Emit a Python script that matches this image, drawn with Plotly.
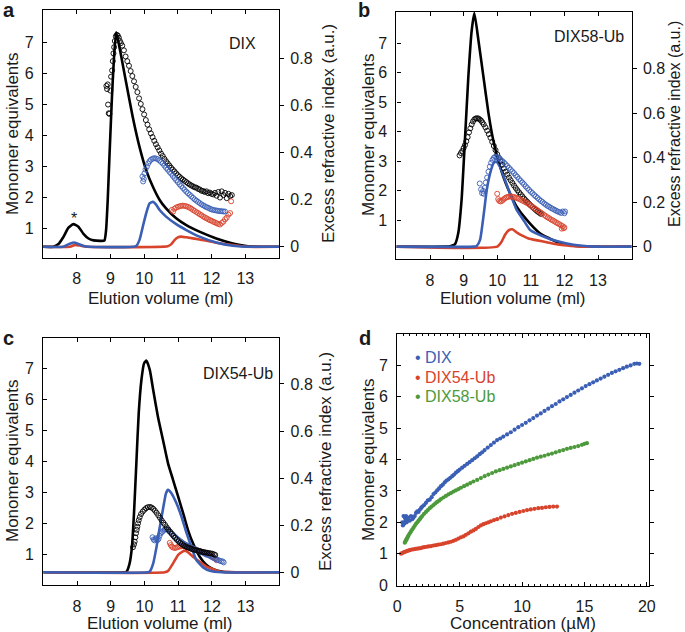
import plotly.graph_objects as go

W, H = 685, 632
BLUE = "#3a5fb5"
RED = "#d8432c"
GREEN = "#4c9a3c"
BLACK = "#000000"
TXT = "#1a1a1a"
FONT = "Liberation Sans, Arial, sans-serif"

# ---------------- Panel a (DIX) ----------------
# refractive index traces (x in ml, y in a.u.)
a_black_ri_x = [7.0, 7.3, 7.45, 7.6, 7.75, 7.9, 8.05, 8.2, 8.35, 8.5, 8.7, 8.82, 8.87, 8.92, 8.97, 9.04, 9.1, 9.17,
                9.32, 9.47, 9.66, 9.86, 10.06, 10.26, 10.46, 10.65, 10.95, 11.25, 11.64, 12.14, 12.63, 13.03, 13.5, 14.0]
a_black_ri_y = [0, 0, 0.01, 0.04, 0.08, 0.096, 0.085, 0.055, 0.035, 0.027, 0.025, 0.026, 0.07, 0.2, 0.38, 0.62, 0.79, 0.912,
                0.81, 0.695, 0.553, 0.426, 0.326, 0.255, 0.199, 0.163, 0.121, 0.092, 0.064, 0.035, 0.014, 0.003, 0, 0]
a_blue_ri_x = [7.0, 7.6, 7.75, 7.9, 8.05, 8.2, 8.4, 9.76, 9.86, 9.96, 10.06, 10.16, 10.26, 10.36, 10.46, 10.65, 10.95,
               11.25, 11.64, 12.14, 12.63, 13.0, 14.0]
a_blue_ri_y = [0, 0, 0.01, 0.018, 0.012, 0.003, 0, 0.003, 0.028, 0.085, 0.142, 0.184, 0.191, 0.178, 0.156, 0.128, 0.096,
               0.071, 0.043, 0.018, 0.004, 0, 0]
a_red_ri_x = [7.0, 7.8, 7.95, 8.1, 8.3, 10.7, 10.8, 10.9, 11.0, 11.1, 11.25, 11.64, 12.14, 12.63, 13.03, 14.0]
a_red_ri_y = [0, 0, 0.008, 0.005, 0, 0.002, 0.01, 0.028, 0.04, 0.043, 0.04, 0.031, 0.017, 0.007, 0, 0]
# monomer equivalents (x, value)
a_black_me = [(8.88, 5.6), (8.9, 5.5), (8.92, 5.65), (8.93, 5.0), (8.95, 4.72), (8.97, 4.7), (9.0, 5.45), (9.02, 5.9),
              (9.05, 6.1), (9.07, 6.4), (9.09, 6.65), (9.11, 6.85), (9.13, 7.05), (9.16, 7.2), (9.19, 7.25), (9.22, 7.22),
              (9.25, 7.15), (9.28, 7.05), (9.31, 6.98), (9.35, 6.9), (9.4, 6.75), (9.45, 6.55), (9.5, 6.4), (9.55, 6.25),
              (9.6, 6.08), (9.65, 5.92), (9.7, 5.75), (9.75, 5.57), (9.8, 5.4), (9.85, 5.2), (9.9, 5.02), (9.95, 4.85),
              (10.0, 4.68), (10.05, 4.5), (10.1, 4.35), (10.15, 4.2), (10.2, 4.07), (10.25, 3.95), (10.3, 3.83),
              (10.35, 3.72), (10.4, 3.62), (10.45, 3.52), (10.5, 3.42), (10.55, 3.34), (10.6, 3.25), (10.65, 3.17),
              (10.7, 3.1), (10.75, 3.03), (10.8, 2.96), (10.85, 2.9), (10.9, 2.84), (10.95, 2.78), (11.0, 2.72),
              (11.05, 2.67), (11.1, 2.62), (11.15, 2.58), (11.2, 2.54), (11.25, 2.5), (11.3, 2.46), (11.35, 2.42),
              (11.4, 2.39), (11.45, 2.36), (11.5, 2.33), (11.55, 2.32), (11.6, 2.28), (11.65, 2.26), (11.7, 2.22),
              (11.75, 2.21), (11.8, 2.18), (11.85, 2.2), (11.9, 2.14), (11.95, 2.16), (12.0, 2.12), (12.05, 2.1),
              (12.1, 2.15), (12.15, 2.06), (12.2, 2.18), (12.25, 2.0), (12.3, 2.2), (12.35, 2.08), (12.4, 2.15),
              (12.45, 1.98), (12.5, 2.12), (12.55, 2.05), (12.6, 2.08)]
a_blue_me = [(9.95, 2.68), (9.97, 2.52), (9.99, 2.6), (10.01, 2.78), (10.04, 2.9), (10.08, 3.0), (10.12, 3.1), (10.16, 3.17),
             (10.2, 3.22), (10.25, 3.25), (10.3, 3.27), (10.35, 3.26), (10.4, 3.24), (10.45, 3.2), (10.5, 3.15), (10.55, 3.1),
             (10.6, 3.03), (10.65, 2.96), (10.7, 2.9), (10.75, 2.83), (10.8, 2.77), (10.85, 2.7), (10.9, 2.63), (10.95, 2.56),
             (11.0, 2.5), (11.05, 2.43), (11.1, 2.37), (11.15, 2.31), (11.2, 2.25), (11.25, 2.19), (11.3, 2.14), (11.35, 2.09),
             (11.4, 2.04), (11.45, 1.99), (11.5, 1.94), (11.55, 1.9), (11.6, 1.86), (11.65, 1.82), (11.7, 1.78), (11.75, 1.75),
             (11.8, 1.72), (11.85, 1.69), (11.9, 1.67), (11.95, 1.64), (12.0, 1.62), (12.05, 1.6), (12.1, 1.59), (12.15, 1.58),
             (12.2, 1.57), (12.25, 1.56), (12.3, 1.56), (12.35, 1.55), (12.4, 1.55)]
a_red_me = [(10.82, 1.6), (10.86, 1.55), (10.9, 1.64), (10.95, 1.68), (11.0, 1.7), (11.05, 1.72), (11.1, 1.73), (11.15, 1.74),
            (11.2, 1.73), (11.25, 1.72), (11.3, 1.7), (11.35, 1.67), (11.4, 1.64), (11.45, 1.6), (11.5, 1.57), (11.55, 1.53),
            (11.6, 1.5), (11.65, 1.46), (11.7, 1.43), (11.75, 1.39), (11.8, 1.36), (11.85, 1.33), (11.9, 1.3), (11.95, 1.27),
            (12.0, 1.25), (12.05, 1.22), (12.1, 1.2), (12.15, 1.17), (12.2, 1.15), (12.25, 1.13), (12.3, 1.18), (12.35, 1.22),
            (12.4, 1.3), (12.45, 1.35), (12.5, 1.45), (12.55, 1.5), (12.58, 1.88)]

# ---------------- Panel b (DIX58-Ub) ----------------
b_black_ri_x = [7.0, 8.5, 8.6, 8.74, 8.84, 8.94, 9.04, 9.14, 9.24, 9.32, 9.44, 9.59, 9.74, 9.88, 10.0, 10.18, 10.38,
                10.58, 10.88, 11.27, 11.77, 12.27, 12.8, 14.0]
b_black_ri_y = [0, 0, 0.002, 0.01, 0.06, 0.21, 0.48, 0.76, 0.97, 1.05, 0.929, 0.764, 0.6, 0.48, 0.405, 0.315, 0.24,
                0.18, 0.12, 0.06, 0.022, 0.004, 0, 0]
b_blue_ri_x = [7.0, 9.3, 9.39, 9.49, 9.59, 9.69, 9.79, 9.89, 9.97, 10.08, 10.23, 10.38, 10.58, 10.78, 10.98, 11.47,
               11.77, 12.27, 12.86, 14.0]
b_blue_ri_y = [0, 0, 0.003, 0.03, 0.135, 0.255, 0.33, 0.375, 0.382, 0.36, 0.3, 0.24, 0.165, 0.12, 0.075, 0.04,
               0.025, 0.008, 0, 0]
b_red_ri_x = [7.0, 10.0, 10.13, 10.23, 10.33, 10.45, 10.6, 10.78, 10.93, 11.2, 11.47, 11.8, 12.07, 12.5, 14.0]
b_red_ri_y = [0, 0, 0.022, 0.052, 0.072, 0.078, 0.062, 0.047, 0.037, 0.028, 0.02, 0.01, 0.005, 0, 0]
b_black_me = [(8.88, 3.2), (8.92, 3.28), (8.96, 3.35), (9.0, 3.45), (9.04, 3.55), (9.08, 3.68), (9.12, 3.82), (9.16, 3.98),
              (9.2, 4.12), (9.24, 4.25), (9.28, 4.35), (9.32, 4.42), (9.36, 4.45), (9.4, 4.46), (9.44, 4.45), (9.48, 4.42),
              (9.52, 4.38), (9.56, 4.32), (9.6, 4.25), (9.65, 4.15), (9.7, 4.04), (9.75, 3.92), (9.8, 3.8), (9.85, 3.66),
              (9.9, 3.52), (9.95, 3.38), (10.0, 3.24), (10.05, 3.12), (10.1, 3.0), (10.15, 2.88), (10.2, 2.76), (10.25, 2.65),
              (10.3, 2.55), (10.35, 2.45), (10.4, 2.36), (10.45, 2.27), (10.5, 2.18), (10.55, 2.1), (10.6, 2.02),
              (10.65, 1.95), (10.7, 1.88), (10.75, 1.81), (10.8, 1.74), (10.85, 1.68), (10.9, 1.62), (10.95, 1.56),
              (11.0, 1.5), (11.05, 1.45), (11.1, 1.4), (11.15, 1.35), (11.2, 1.3), (11.25, 1.26), (11.3, 1.22)]
b_blue_me = [(9.48, 2.25), (9.52, 2.05), (9.55, 1.92), (9.58, 2.0), (9.6, 1.9), (9.63, 2.1), (9.66, 2.28), (9.7, 2.45),
             (9.74, 2.65), (9.78, 2.82), (9.82, 2.95), (9.86, 3.05), (9.9, 3.12), (9.94, 3.15), (9.98, 3.15), (10.02, 3.13),
             (10.06, 3.1), (10.1, 3.06), (10.15, 3.01), (10.2, 2.96), (10.25, 2.9), (10.3, 2.84), (10.35, 2.78), (10.4, 2.72),
             (10.45, 2.66), (10.5, 2.6), (10.55, 2.53), (10.6, 2.47), (10.65, 2.4), (10.7, 2.34), (10.75, 2.28), (10.8, 2.22),
             (10.85, 2.15), (10.9, 2.09), (10.95, 2.03), (11.0, 1.97), (11.05, 1.92), (11.1, 1.86), (11.15, 1.81),
             (11.2, 1.76), (11.25, 1.71), (11.3, 1.66), (11.35, 1.62), (11.4, 1.57), (11.45, 1.53), (11.5, 1.49),
             (11.55, 1.46), (11.6, 1.42), (11.65, 1.39), (11.7, 1.36), (11.75, 1.33), (11.8, 1.3), (11.85, 1.28),
             (11.9, 1.25), (11.95, 1.3), (12.0, 1.24), (12.02, 1.3)]
b_red_me = [(10.0, 1.9), (10.03, 1.72), (10.06, 1.66), (10.1, 1.64), (10.14, 1.66), (10.18, 1.7), (10.22, 1.74), (10.26, 1.77),
            (10.3, 1.79), (10.35, 1.8), (10.4, 1.81), (10.45, 1.8), (10.5, 1.79), (10.55, 1.77), (10.6, 1.75), (10.65, 1.73),
            (10.7, 1.7), (10.75, 1.67), (10.8, 1.64), (10.85, 1.61), (10.9, 1.58), (10.95, 1.54), (11.0, 1.5), (11.05, 1.46),
            (11.1, 1.42), (11.15, 1.38), (11.2, 1.34), (11.25, 1.3), (11.3, 1.26), (11.35, 1.22), (11.4, 1.18), (11.45, 1.14),
            (11.5, 1.1), (11.55, 1.07), (11.6, 1.03), (11.65, 1.0), (11.7, 0.97), (11.75, 0.93), (11.8, 0.9), (11.85, 0.87),
            (11.9, 0.83), (11.95, 0.8), (12.0, 0.76), (11.92, 0.72), (11.98, 0.73)]

# ---------------- Panel c (DIX54-Ub) ----------------
c_black_ri_x = [7.0, 9.4, 9.47, 9.56, 9.63, 9.69, 9.76, 9.83, 9.91, 9.99, 10.06, 10.16, 10.26, 10.4, 10.55, 10.7, 10.85,
                11.0, 11.15, 11.29, 11.44, 11.64, 11.84, 12.04, 12.33, 12.8, 14.0]
c_black_ri_y = [0, 0, 0.003, 0.038, 0.109, 0.25, 0.463, 0.675, 0.817, 0.888, 0.899, 0.859, 0.774, 0.661, 0.562, 0.463,
                0.392, 0.321, 0.25, 0.18, 0.123, 0.066, 0.031, 0.013, 0.002, 0, 0]
c_blue_ri_x = [7.0, 10.1, 10.16, 10.26, 10.36, 10.44, 10.51, 10.58, 10.64, 10.7, 10.8, 10.95, 11.1, 11.25, 11.39, 11.54,
               11.74, 11.94, 12.3, 14.0]
c_blue_ri_y = [0, 0, 0.004, 0.038, 0.109, 0.18, 0.236, 0.293, 0.336, 0.35, 0.336, 0.293, 0.236, 0.166, 0.109, 0.052,
               0.021, 0.007, 0, 0]
c_red_ri_x = [7.0, 10.6, 10.7, 10.85, 11.0, 11.13, 11.2, 11.29, 11.44, 11.64, 11.84, 12.04, 12.23, 12.6, 14.0]
c_red_ri_y = [0, 0, 0.006, 0.038, 0.074, 0.088, 0.092, 0.085, 0.066, 0.045, 0.024, 0.013, 0.003, 0, 0]
c_black_me = [(9.66, 1.23), (9.69, 1.32), (9.71, 1.41), (9.73, 1.55), (9.75, 1.68), (9.77, 1.79), (9.79, 1.89), (9.81, 2.0),
              (9.83, 2.1), (9.86, 2.2), (9.9, 2.3), (9.95, 2.38), (10.0, 2.44), (10.05, 2.49), (10.1, 2.52), (10.16, 2.53),
              (10.21, 2.51), (10.26, 2.47), (10.31, 2.41), (10.36, 2.34), (10.41, 2.26), (10.46, 2.18), (10.51, 2.1),
              (10.56, 2.02), (10.61, 1.95), (10.66, 1.87), (10.71, 1.8), (10.76, 1.73), (10.81, 1.66), (10.86, 1.59),
              (10.91, 1.53), (10.96, 1.47), (11.01, 1.42), (11.06, 1.37), (11.11, 1.33), (11.16, 1.29), (11.21, 1.26),
              (11.26, 1.23), (11.31, 1.21), (11.36, 1.19), (11.41, 1.17), (11.46, 1.15), (11.51, 1.14), (11.56, 1.12),
              (11.61, 1.11), (11.66, 1.1), (11.71, 1.08), (11.76, 1.07), (11.81, 1.06), (11.86, 1.05), (11.91, 1.04),
              (11.96, 1.03), (12.01, 1.02), (12.06, 1.0), (12.1, 0.98)]
c_blue_me = [(10.24, 1.55), (10.27, 1.48), (10.3, 1.45), (10.33, 1.5), (10.36, 1.52), (10.39, 1.46), (10.42, 1.5),
             (10.45, 1.6), (10.48, 1.68), (10.52, 1.72), (10.56, 1.76), (10.6, 1.8), (10.64, 1.82), (10.68, 1.8),
             (10.72, 1.76), (10.77, 1.71), (10.82, 1.66), (10.87, 1.6), (10.92, 1.55), (10.97, 1.5), (11.02, 1.46),
             (11.07, 1.42), (11.12, 1.38), (11.17, 1.34), (11.22, 1.31), (11.27, 1.28), (11.32, 1.25), (11.37, 1.22),
             (11.42, 1.2), (11.47, 1.18), (11.52, 1.16), (11.57, 1.13), (11.62, 1.11), (11.67, 1.08), (11.72, 1.06),
             (11.77, 1.03), (11.82, 1.0), (11.87, 0.98), (11.92, 0.96), (11.97, 0.93), (12.02, 0.9), (12.07, 0.87),
             (12.12, 0.85), (12.17, 0.82), (12.22, 0.8), (12.27, 0.78), (12.32, 0.77), (12.35, 0.74)]
c_red_me = [(10.75, 1.37), (10.78, 1.3), (10.81, 1.25), (10.85, 1.22), (10.9, 1.2), (10.95, 1.22), (11.0, 1.24), (11.05, 1.25),
            (11.1, 1.26), (11.15, 1.26), (11.2, 1.26), (11.25, 1.25), (11.3, 1.24), (11.35, 1.22), (11.4, 1.2), (11.45, 1.18),
            (11.5, 1.16), (11.55, 1.14), (11.6, 1.12), (11.65, 1.1), (11.7, 1.08), (11.75, 1.06), (11.8, 1.04), (11.85, 1.02),
            (11.9, 1.0), (11.95, 0.97), (12.0, 0.94), (12.05, 0.9), (12.1, 0.86), (12.14, 0.81)]

# ---------------- Panel d (monomer equivalents vs concentration) ----------------
d_dix_x = [0.4, 0.45, 0.5, 0.55, 0.6, 0.65, 0.7, 0.75, 0.8, 0.9, 1.0, 1.1, 1.2, 1.3, 1.4, 1.5, 1.6, 1.7, 1.8, 1.9, 2.0,
           2.15, 2.3, 2.45, 2.6, 2.75, 2.9, 3.05, 3.2, 3.35, 3.5, 3.65, 3.8, 3.95, 4.1, 4.25, 4.4, 4.55, 4.7, 4.85, 5.0,
           5.2, 5.4, 5.6, 5.8, 6.0, 6.2, 6.4, 6.6, 6.8, 7.0, 7.25, 7.5, 7.75, 8.0, 8.25, 8.5, 8.8, 9.1, 9.4, 9.7, 10.0,
           10.3, 10.6, 10.9, 11.2, 11.5, 11.8, 12.1, 12.4, 12.7, 13.0, 13.3, 13.6, 13.9, 14.2, 14.5, 14.8, 15.1, 15.4,
           15.7, 16.0, 16.3, 16.6, 16.9, 17.2, 17.5, 17.8, 18.1, 18.4, 18.7, 19.0, 19.2, 19.4]
d_dix_y = [2.0, 1.9, 2.2, 1.95, 2.15, 2.05, 2.2, 2.0, 2.1, 2.15, 2.05, 2.2, 2.1, 2.15, 2.2, 2.3, 2.35, 2.33, 2.4, 2.45, 2.5,
           2.55, 2.62, 2.7, 2.72, 2.8, 2.9, 2.95, 3.02, 3.08, 3.15, 3.2, 3.27, 3.33, 3.37, 3.42, 3.47, 3.52, 3.58, 3.63, 3.68,
           3.74, 3.8, 3.86, 3.92, 3.98, 4.04, 4.1, 4.17, 4.23, 4.3, 4.38, 4.46, 4.54, 4.62, 4.67, 4.73, 4.8, 4.87, 4.95, 5.03,
           5.1, 5.17, 5.25, 5.32, 5.4, 5.47, 5.55, 5.62, 5.7, 5.77, 5.85, 5.92, 5.99, 6.06, 6.13, 6.2, 6.27, 6.34, 6.4,
           6.46, 6.52, 6.58, 6.64, 6.7, 6.76, 6.81, 6.86, 6.91, 6.96, 7.0, 7.05, 7.06, 7.05]
d_dix54_x = [0.3, 0.4, 0.5, 0.6, 0.7, 0.8, 0.9, 1.0, 1.15, 1.3, 1.45, 1.6, 1.75, 1.9, 2.05, 2.2, 2.35, 2.5, 2.7, 2.9, 3.1,
             3.3, 3.5, 3.7, 3.9, 4.1, 4.3, 4.5, 4.7, 4.9, 5.1, 5.3, 5.5, 5.7, 5.9, 6.1, 6.3, 6.5, 6.7, 6.9, 7.1, 7.3, 7.5,
             7.75, 8.0, 8.3, 8.6, 8.9, 9.2, 9.5, 9.8, 10.1, 10.4, 10.7, 11.0, 11.3, 11.6, 11.9, 12.2, 12.5, 12.8]
d_dix54_y = [1.0, 1.02, 1.04, 1.06, 1.07, 1.09, 1.1, 1.11, 1.13, 1.14, 1.15, 1.16, 1.17, 1.18, 1.2, 1.21, 1.22, 1.23, 1.24,
             1.26, 1.27, 1.29, 1.3, 1.32, 1.34, 1.36, 1.38, 1.41, 1.44, 1.48, 1.52, 1.55, 1.6, 1.65, 1.7, 1.74, 1.79, 1.85,
             1.9, 1.94, 1.97, 2.0, 2.03, 2.07, 2.1, 2.15, 2.19, 2.23, 2.27, 2.3, 2.33, 2.36, 2.39, 2.41, 2.43, 2.45, 2.46,
             2.48, 2.49, 2.5, 2.5]
d_dix58_x = [0.6, 0.65, 0.7, 0.75, 0.8, 0.85, 0.9, 1.0, 1.1, 1.2, 1.3, 1.4, 1.5, 1.6, 1.7, 1.8, 1.9, 2.0, 2.15, 2.3, 2.45,
             2.6, 2.75, 2.9, 3.05, 3.2, 3.35, 3.5, 3.7, 3.9, 4.1, 4.3, 4.5, 4.7, 4.9, 5.1, 5.35, 5.6, 5.85, 6.1, 6.4, 6.7,
             7.0, 7.3, 7.6, 7.9, 8.2, 8.5, 8.8, 9.1, 9.4, 9.7, 10.0, 10.3, 10.6, 10.9, 11.2, 11.5, 11.8, 12.1, 12.4, 12.7,
             13.0, 13.3, 13.6, 13.9, 14.2, 14.5, 14.8, 15.0, 15.2]
d_dix58_y = [1.35, 1.39, 1.43, 1.47, 1.5, 1.54, 1.58, 1.65, 1.71, 1.77, 1.83, 1.89, 1.95, 2.0, 2.05, 2.1, 2.15, 2.2, 2.27,
             2.33, 2.39, 2.45, 2.5, 2.55, 2.6, 2.65, 2.69, 2.74, 2.79, 2.84, 2.89, 2.93, 2.98, 3.02, 3.06, 3.1, 3.15, 3.2,
             3.25, 3.3, 3.35, 3.41, 3.47, 3.52, 3.57, 3.62, 3.66, 3.7, 3.74, 3.78, 3.82, 3.86, 3.9, 3.94, 3.98, 4.02,
             4.06, 4.09, 4.12, 4.16, 4.19, 4.23, 4.27, 4.3, 4.34, 4.37, 4.4, 4.43, 4.47, 4.5, 4.52]

# tick labels
elution_ticks = [8, 9, 10, 11, 12, 13]
monomer_ticks = [1, 2, 3, 4, 5, 6, 7]
ri_ticks = [0, 0.2, 0.4, 0.6, 0.8]
ri_ticktext = ["0", "0.2", "0.4", "0.6", "0.8"]
conc_ticks = [0, 5, 10, 15, 20]
d_y_ticks = [0, 1, 2, 3, 4, 5, 6, 7]


def px(v):
    return v / W


def py(v):
    return 1 - v / H


fig = go.Figure()


def add_line(xs, ys, color, xa, ya):
    fig.add_trace(go.Scatter(x=xs, y=ys, mode="lines", xaxis=xa, yaxis=ya, hoverinfo="skip", showlegend=False,
                             line=dict(color=color, width=2.6, shape="spline", smoothing=0.5)))


def add_circles(pts, color, xa, ya):
    fig.add_trace(go.Scatter(x=[p[0] for p in pts], y=[p[1] for p in pts], mode="markers", xaxis=xa, yaxis=ya,
                             hoverinfo="skip", showlegend=False,
                             marker=dict(symbol="circle-open", size=5, color=color, line=dict(width=0.9, color=color))))


def add_dots(xs, ys, color):
    fig.add_trace(go.Scatter(x=xs, y=ys, mode="markers", xaxis="x4", yaxis="y7", hoverinfo="skip", showlegend=False,
                             marker=dict(symbol="circle", size=4.2, color=color)))


# panel a: RI on base axis (y, right), monomer equivalents on overlay (y2, left)
add_line(a_black_ri_x, a_black_ri_y, BLACK, "x", "y")
add_line(a_red_ri_x, a_red_ri_y, RED, "x", "y")
add_line(a_blue_ri_x, a_blue_ri_y, BLUE, "x", "y")
add_circles(a_black_me, BLACK, "x", "y2")
add_circles(a_red_me, RED, "x", "y2")
add_circles(a_blue_me, BLUE, "x", "y2")
# panel b
add_line(b_black_ri_x, b_black_ri_y, BLACK, "x2", "y3")
add_line(b_red_ri_x, b_red_ri_y, RED, "x2", "y3")
add_line(b_blue_ri_x, b_blue_ri_y, BLUE, "x2", "y3")
add_circles(b_black_me, BLACK, "x2", "y4")
add_circles(b_red_me, RED, "x2", "y4")
add_circles(b_blue_me, BLUE, "x2", "y4")
# panel c
add_line(c_black_ri_x, c_black_ri_y, BLACK, "x3", "y5")
add_line(c_red_ri_x, c_red_ri_y, RED, "x3", "y5")
add_line(c_blue_ri_x, c_blue_ri_y, BLUE, "x3", "y5")
add_circles(c_red_me, RED, "x3", "y6")
add_circles(c_blue_me, BLUE, "x3", "y6")
add_circles(c_black_me, BLACK, "x3", "y6")
# panel d
add_dots(d_dix54_x, d_dix54_y, RED)
add_dots(d_dix58_x, d_dix58_y, GREEN)
add_dots(d_dix_x, d_dix_y, BLUE)
# invisible trace so the right-side tick axis of panel d renders
fig.add_trace(go.Scatter(x=[None], y=[None], xaxis="x4", yaxis="y8", showlegend=False, hoverinfo="skip"))

tickfont = dict(family=FONT, size=16, color=TXT)
LW = 1.2


def xaxis(dom, anchor, rng, tickvals, minor=None, standoff=6):
    d = dict(domain=dom, anchor=anchor, range=rng, tickvals=tickvals, ticks="inside", ticklen=4, tickwidth=1,
             tickcolor="black", showline=True, linecolor="black", linewidth=LW, mirror="ticks", showgrid=False,
             zeroline=False, tickfont=tickfont, ticklabelstandoff=standoff, automargin=False)
    if minor:
        d["minor"] = minor
    return d


def yleft(dom, anchor, rng, tickvals, overlaying=None):
    d = dict(anchor=anchor, range=rng, tickvals=tickvals, ticks="inside", ticklen=4, tickwidth=1, tickcolor="black",
             showline=True, linecolor="black", linewidth=LW, side="left", showgrid=False, zeroline=False,
             tickfont=tickfont, ticklabelstandoff=5, automargin=False)
    if overlaying:
        d["overlaying"] = overlaying
    else:
        d["domain"] = dom
    return d


def yright(dom, anchor, rng, tickvals, ticktext=None, overlaying=None, labels=True):
    d = dict(anchor=anchor, range=rng, tickvals=tickvals, ticks="outside", ticklen=4, tickwidth=1, tickcolor="black",
             showline=True, linecolor="black", linewidth=LW, side="right", showgrid=False, zeroline=False,
             tickfont=tickfont, showticklabels=labels, ticklabelstandoff=3, automargin=False)
    if ticktext:
        d["ticktext"] = ticktext
    if overlaying:
        d["overlaying"] = overlaying
    else:
        d["domain"] = dom
    return d


A_x = [px(43), px(279)]
A_y = [py(258), py(10)]
B_x = [px(396.4), px(631.6)]
B_y = [py(259.3), py(11.7)]
C_x = [px(43.3), px(279.3)]
C_y = [py(585), py(338.3)]
D_x = [px(397.3), px(649.3)]
D_y = [py(586), py(334)]

fig.update_layout(
    width=W, height=H, margin=dict(l=0, r=0, t=0, b=0, autoexpand=False),
    paper_bgcolor="white", plot_bgcolor="white", showlegend=False,
    font=dict(family=FONT, size=16, color=TXT),
    xaxis=xaxis(A_x, "y", [7, 14], elution_ticks),
    yaxis=yright(A_y, "x", [-0.048, 1.007], ri_ticks, ri_ticktext),
    yaxis2=yleft(A_y, "x", [0.05, 8.05], monomer_ticks, overlaying="y"),
    xaxis2=xaxis(B_x, "y3", [7, 14], elution_ticks),
    yaxis3=yright(B_y, "x2", [-0.057, 1.056], ri_ticks, ri_ticktext),
    yaxis4=yleft(B_y, "x2", [-0.32, 8.07], monomer_ticks, overlaying="y3"),
    xaxis3=xaxis(C_x, "y5", [7, 14], elution_ticks, standoff=7),
    yaxis5=yright(C_y, "x3", [-0.054, 0.994], ri_ticks, ri_ticktext),
    yaxis6=yleft(C_y, "x3", [0.01, 7.97], monomer_ticks, overlaying="y5"),
    xaxis4=xaxis(D_x, "y7", [0, 20.2], conc_ticks, standoff=6,
                 minor=dict(dtick=0.5, ticks="inside", ticklen=2, tickwidth=1, tickcolor="black")),
    yaxis7=yleft(D_y, "x4", [-0.03, 8.0], d_y_ticks),
    yaxis8=yright(D_y, "x4", [-0.03, 8.0], d_y_ticks, overlaying="y7", labels=False),
)

ann = []


def text(s, x, y, size=17, color=TXT, angle=0, xanchor="center", bold=False):
    if bold:
        s = "<b>" + s + "</b>"
    ann.append(dict(text=s, x=px(x), y=py(y), xref="paper", yref="paper", showarrow=False, textangle=angle,
                    xanchor=xanchor, yanchor="middle", font=dict(family=FONT, size=size, color=color)))


# panel letters
text("a", 1, 10, size=20, xanchor="left", bold=True)
text("b", 356, 10, size=20, xanchor="left", bold=True)
text("c", 1, 338, size=20, xanchor="left", bold=True)
text("d", 357, 338, size=20, xanchor="left", bold=True)
# panel tags
text("DIX", 242, 43, size=16)
text("*", 74, 218, size=16)
text("DIX58-Ub", 589, 37, size=16)
text("DIX54-Ub", 238, 373, size=16)
# axis titles
for (x, y) in [(12, 134), (368, 135), (12, 461), (368, 460)]:
    text("Monomer equivalents", x, y, angle=-90)
for (x, y) in [(328, 134), (325, 462)]:
    text("Excess refractive index (a.u.)", x, y, angle=-90)
text("Excess refractive index (a.u.)", 675, 124, angle=-90, size=16)
text("Elution volume (ml)", 161, 298)
text("Elution volume (ml)", 513, 298)
text("Elution volume (ml)", 160, 623)
text("Concentration (\u00b5M)", 523, 623)
# panel d legend
text("\u2022 DIX", 413, 357, color=BLUE, xanchor="left", size=16)
text("\u2022 DIX54-Ub", 413, 377, color=RED, xanchor="left", size=16)
text("\u2022 DIX58-Ub", 413, 396, color=GREEN, xanchor="left", size=16)

fig.update_layout(annotations=ann)
# remove the browser's default page margin so the figure sits at the window origin
fig.write_html("out.html", config={"displayModeBar": False},
               post_script="document.body.style.margin='0px';document.body.style.padding='0px';")
